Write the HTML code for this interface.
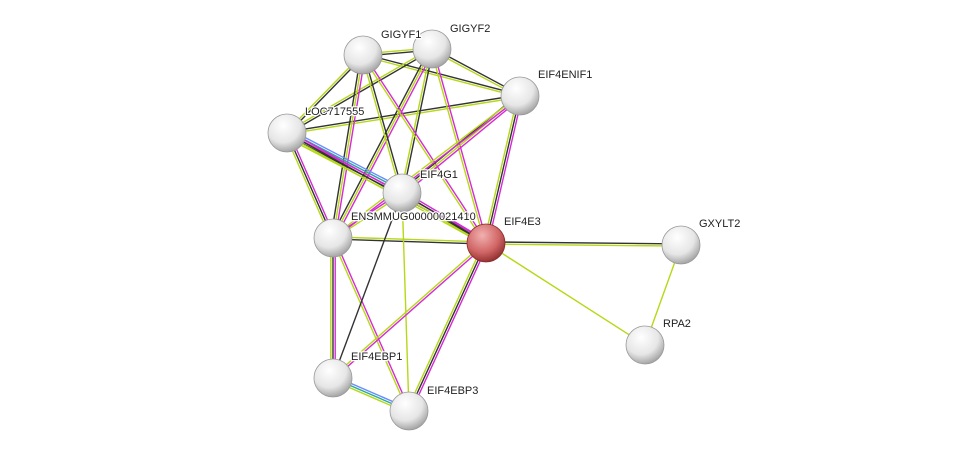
<!DOCTYPE html>
<html><head><meta charset="utf-8"><style>
body{margin:0;background:#fff;width:975px;height:457px;overflow:hidden}
svg{display:block}
text{font-family:"Liberation Sans",sans-serif;font-size:11px;fill:#222;stroke:#fff;stroke-width:2.5px;paint-order:stroke;stroke-linejoin:round}
</style></head><body>
<svg id="s" width="975" height="457" xmlns="http://www.w3.org/2000/svg">
<defs>
<radialGradient id="g" cx="0.4" cy="0.3" r="0.75"><stop offset="0" stop-color="#fff"/><stop offset="0.6" stop-color="#e6e6e6"/><stop offset="1" stop-color="#9a9a9a"/></radialGradient>
<radialGradient id="r" cx="0.4" cy="0.3" r="0.75"><stop offset="0" stop-color="#f2b0b0"/><stop offset="0.6" stop-color="#d06565"/><stop offset="1" stop-color="#8a2a2a"/></radialGradient>
</defs>
<g id="e"></g><g id="n"></g>
</svg>
<script>
var N={GIGYF1:[363,55],GIGYF2:[432,49],EIF4ENIF1:[520,96],LOC:[287,133],EIF4G1:[402,193],ENS:[333,238],EIF4E3:[486,243],GXYLT2:[681,245],RPA2:[645,345],BP1:[333,378],BP3:[409,411]};
var C={k:"#333",y:"#b5d916",m:"#d42ad4",b:"#6a8cff",t:"#2aa8a0"};
var E=[["GIGYF1","GIGYF2","yk"],["GIGYF1","EIF4ENIF1","ky"],["GIGYF2","EIF4ENIF1","ky"],["GIGYF1","LOC","ky"],["GIGYF2","LOC","ky"],["LOC","EIF4ENIF1","ky"],["GIGYF1","ENS","myk"],["GIGYF2","ENS","myk"],["GIGYF1","EIF4G1","ky"],["GIGYF2","EIF4G1","ky"],["GIGYF1","EIF4E3","my"],["GIGYF2","EIF4E3","my"],["EIF4ENIF1","EIF4G1","myk"],["EIF4ENIF1","EIF4E3","mky"],["EIF4ENIF1","ENS","my"],["LOC","EIF4G1","btmky"],["LOC","EIF4E3","mky"],["LOC","ENS","mky"],["EIF4G1","EIF4E3","mky"],["ENS","EIF4G1","my"],["ENS","EIF4E3","yk"],["EIF4E3","GXYLT2","ky"],["EIF4E3","RPA2","y"],["GXYLT2","RPA2","y"],["ENS","BP1","mky"],["ENS","BP3","my"],["EIF4G1","BP1","k"],["EIF4G1","BP3","y"],["EIF4E3","BP1","my"],["EIF4E3","BP3","mky"],["BP1","BP3","bty"]];
var ns="http://www.w3.org/2000/svg",eg=document.getElementById("e"),ng=document.getElementById("n");
E.forEach(function(d){var a=N[d[0]],b=N[d[1]],dx=b[0]-a[0],dy=b[1]-a[1],L=Math.hypot(dx,dy),px=-dy/L,py=dx/L,n=d[2].length;
for(var i=0;i<n;i++){var o=(i-(n-1)/2)*2.2,l=document.createElementNS(ns,"line");
l.setAttribute("x1",a[0]+px*o);l.setAttribute("y1",a[1]+py*o);l.setAttribute("x2",b[0]+px*o);l.setAttribute("y2",b[1]+py*o);
l.setAttribute("stroke",C[d[2][i]]);l.setAttribute("stroke-width","1.4");eg.appendChild(l);}});
var T={GIGYF1:["GIGYF1",381,34],GIGYF2:["GIGYF2",450,28],EIF4ENIF1:["EIF4ENIF1",538,74],LOC:["LOC717555",305,111],EIF4G1:["EIF4G1",420,174],ENS:["ENSMMUG00000021410",351,216],EIF4E3:["EIF4E3",504,221],GXYLT2:["GXYLT2",699,223],RPA2:["RPA2",663,323],BP1:["EIF4EBP1",351,356],BP3:["EIF4EBP3",427,390]};
for(var k in N){var p=N[k],c=document.createElementNS(ns,"circle");c.setAttribute("cx",p[0]);c.setAttribute("cy",p[1]);c.setAttribute("r",19);
c.setAttribute("fill",k=="EIF4E3"?"url(#r)":"url(#g)");c.setAttribute("stroke",k=="EIF4E3"?"#8a2a2a":"#999");c.setAttribute("stroke-width","0.8");ng.appendChild(c);}
for(var k in T){var t=document.createElementNS(ns,"text");t.setAttribute("x",T[k][1]);t.setAttribute("y",T[k][2]+4);t.textContent=T[k][0];ng.appendChild(t);}
</script>
</body></html>
